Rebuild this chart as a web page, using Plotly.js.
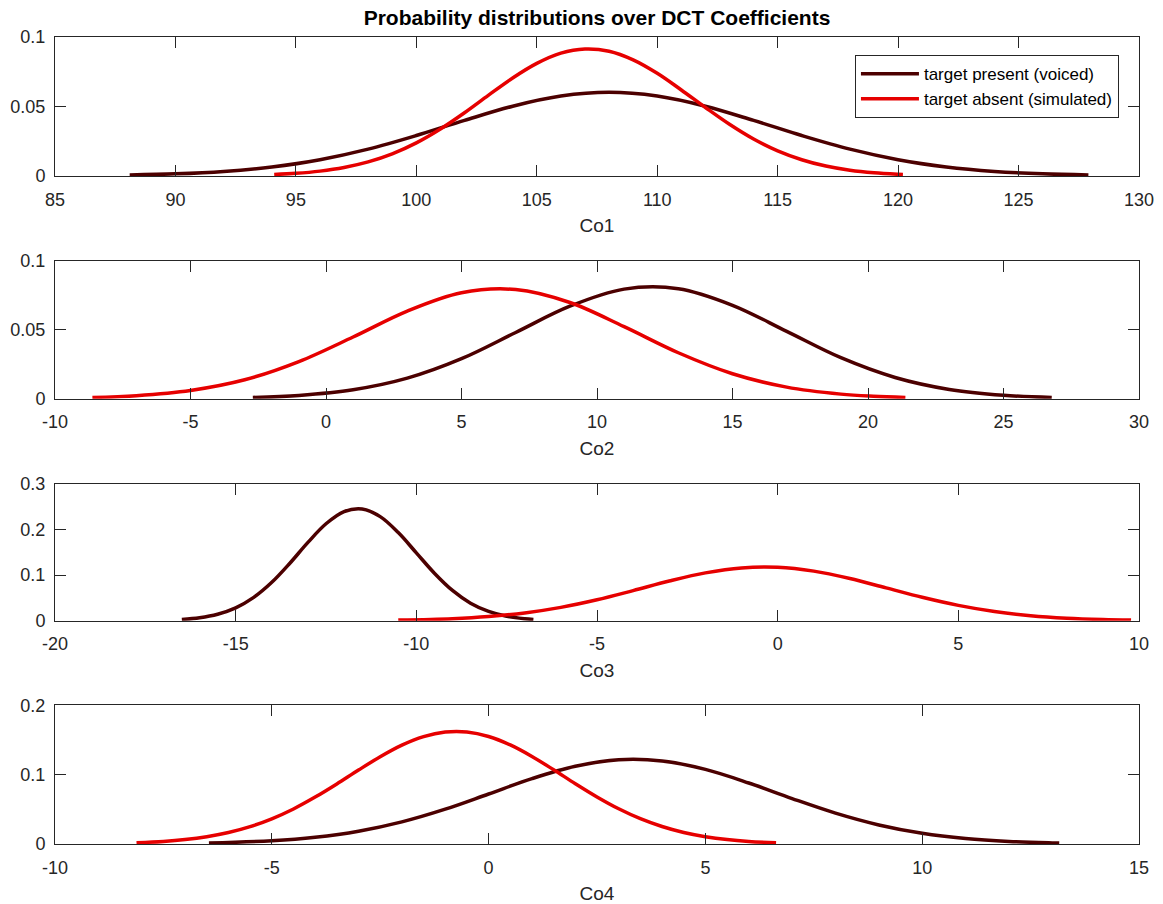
<!DOCTYPE html>
<html>
<head>
<meta charset="utf-8">
<script src="https://cdn.plot.ly/plotly-3.0.1.min.js"></script>
<style>html,body{margin:0;padding:0;background:#fff;}#chart{width:1163px;height:904px;}</style>
</head>
<body>
<div id="chart"></div>
<script>
// Co1
const co1PresentX = [88.1, 90, 92, 94, 96, 98, 100, 102, 104, 106, 108, 110, 112, 114, 116, 118, 120, 122, 124, 126, 127.9];
const co1PresentY = [0.00067, 0.00151, 0.00328, 0.00647, 0.0117, 0.0193, 0.0291, 0.0400, 0.0502, 0.0575, 0.0602, 0.0575, 0.0502, 0.0400, 0.0291, 0.0193, 0.0117, 0.00647, 0.00328, 0.00151, 0.00067];
const co1AbsentX = [94.1, 95, 96, 97, 98, 99, 100, 101, 102, 103, 104, 105, 106, 107, 108, 109, 110, 111, 112, 113, 114, 115, 116, 117, 118, 119, 120, 120.2];
const co1AbsentY = [0.00104, 0.00188, 0.00348, 0.00609, 0.0101, 0.0159, 0.0238, 0.0338, 0.0455, 0.0582, 0.0705, 0.0810, 0.0884, 0.0914, 0.0898, 0.0836, 0.0739, 0.0619, 0.0493, 0.0372, 0.0266, 0.0181, 0.0117, 0.00713, 0.00413, 0.00228, 0.00119, 0.00104];
// Co2
const co2PresentX = [-2.7, -1, 1, 3, 5, 7, 9, 11, 13, 15, 17, 19, 21, 23, 25, 26.78];
const co2PresentY = [0.0009, 0.00239, 0.00648, 0.0149, 0.0290, 0.0480, 0.0670, 0.0794, 0.0797, 0.0677, 0.0488, 0.0297, 0.0154, 0.00673, 0.00249, 0.0009];
const co2AbsentX = [-8.62, -7, -5, -3, -1, 1, 3, 5, 7, 9, 11, 13, 15, 17, 19, 20.2, 21.38];
const co2AbsentY = [0.00089, 0.00222, 0.00598, 0.0137, 0.0269, 0.0447, 0.0635, 0.0768, 0.0791, 0.0697, 0.0522, 0.0333, 0.0181, 0.00838, 0.00331, 0.00175, 0.00089];
// Co3
const co3PresentX = [-16.49, -16, -15.5, -15, -14.5, -14, -13.5, -13, -12.5, -12, -11.5, -11, -10.5, -10, -9.5, -9, -8.5, -8, -7.5, -7, -6.76];
const co3PresentY = [0.00273, 0.00647, 0.0142, 0.0282, 0.0511, 0.0842, 0.1261, 0.1718, 0.2127, 0.2395, 0.2453, 0.2284, 0.1934, 0.1489, 0.1043, 0.0664, 0.0384, 0.0203, 0.00969, 0.00422, 0.00273];
const co3AbsentX = [-10.5, -9, -8, -7, -6, -5, -4, -3, -2, -1, 0, 1, 2, 3, 4, 5, 6, 7, 8, 9, 9.78];
const co3AbsentY = [0.00131, 0.00450, 0.00918, 0.0171, 0.0293, 0.0460, 0.0661, 0.0870, 0.1049, 0.1159, 0.1173, 0.1088, 0.0925, 0.0720, 0.0514, 0.0336, 0.0201, 0.0110, 0.00555, 0.00255, 0.00131];
// Co4
const co4PresentX = [-6.45, -5, -4, -3, -2, -1, 0, 1, 2, 3, 4, 5, 6, 7, 8, 9, 10, 11, 12, 13, 13.16];
const co4PresentY = [0.00136, 0.00465, 0.00971, 0.0184, 0.0319, 0.0502, 0.0721, 0.0942, 0.1120, 0.1214, 0.1197, 0.1076, 0.0880, 0.0655, 0.0445, 0.0275, 0.01545, 0.00792, 0.00369, 0.00157, 0.00136];
const co4AbsentX = [-8.12, -7.5, -7, -6.5, -6, -5.5, -5, -4.5, -4, -3.5, -3, -2.5, -2, -1.5, -1, -0.5, 0, 0.5, 1, 1.5, 2, 2.5, 3, 3.5, 4, 4.5, 5, 5.5, 6, 6.63];
const co4AbsentY = [0.0018, 0.0037, 0.00637, 0.0105, 0.0165, 0.0250, 0.0363, 0.0505, 0.0676, 0.0866, 0.1066, 0.1258, 0.1425, 0.1548, 0.1614, 0.1615, 0.1550, 0.1428, 0.1262, 0.1070, 0.0870, 0.0679, 0.0508, 0.0365, 0.0252, 0.0166, 0.01058, 0.00643, 0.00376, 0.0018];

const axisTitles = ['Co1', 'Co2', 'Co3', 'Co4'];
const xRanges = [[85, 130], [-10, 30], [-20, 10], [-10, 15]];
const xTickVals = [
  [85, 90, 95, 100, 105, 110, 115, 120, 125, 130],
  [-10, -5, 0, 5, 10, 15, 20, 25, 30],
  [-20, -15, -10, -5, 0, 5, 10],
  [-10, -5, 0, 5, 10, 15]
];
const xTickText = [
  ['85', '90', '95', '100', '105', '110', '115', '120', '125', '130'],
  ['-10', '-5', '0', '5', '10', '15', '20', '25', '30'],
  ['-20', '-15', '-10', '-5', '0', '5', '10'],
  ['-10', '-5', '0', '5', '10', '15']
];
const yRanges = [[0, 0.1], [0, 0.1], [0, 0.3], [0, 0.2]];
const yDticks = [0.05, 0.05, 0.1, 0.1];
const seriesNames = ['target present (voiced)', 'target absent (simulated)'];
const chartTitle = 'Probability distributions over DCT Coefficients';

const presentColor = '#4c0000';
const absentColor = '#e60000';
const presentX = [co1PresentX, co2PresentX, co3PresentX, co4PresentX];
const presentY = [co1PresentY, co2PresentY, co3PresentY, co4PresentY];
const absentX = [co1AbsentX, co2AbsentX, co3AbsentX, co4AbsentX];
const absentY = [co1AbsentY, co2AbsentY, co3AbsentY, co4AbsentY];

const font = '"Liberation Sans", Arial, Helvetica, sans-serif';
const axisColor = '#262626';
const yDomains = [[0.8278, 1.0], [0.5518, 0.7228], [0.2767, 0.4461], [0.0, 0.1719]];

const traces = [];
for (let i = 0; i < 4; i++) {
  const sfx = i === 0 ? '' : String(i + 1);
  traces.push({
    x: presentX[i], y: presentY[i], type: 'scatter', mode: 'lines',
    line: {color: presentColor, width: 3.5, shape: 'spline', smoothing: 1},
    name: seriesNames[0], showlegend: i === 0,
    xaxis: 'x' + sfx, yaxis: 'y' + sfx, hoverinfo: 'x+y'
  });
  traces.push({
    x: absentX[i], y: absentY[i], type: 'scatter', mode: 'lines',
    line: {color: absentColor, width: 3.5, shape: 'spline', smoothing: 1},
    name: seriesNames[1], showlegend: i === 0,
    xaxis: 'x' + sfx, yaxis: 'y' + sfx, hoverinfo: 'x+y'
  });
}

const layout = {
  width: 1163, height: 904,
  margin: {l: 55, r: 24, t: 37, b: 60},
  paper_bgcolor: '#ffffff', plot_bgcolor: '#ffffff',
  font: {family: font, color: axisColor, size: 18},
  title: {
    text: '<b>' + chartTitle + '</b>',
    x: 0.5, xref: 'paper', xanchor: 'center',
    y: 0.980, yref: 'container', yanchor: 'middle',
    font: {family: font, size: 21, color: '#000000'}
  },
  showlegend: true,
  legend: {
    x: 0.9815, xanchor: 'right', y: 0.9775, yanchor: 'top',
    bgcolor: '#ffffff', bordercolor: axisColor, borderwidth: 1,
    font: {family: font, size: 17, color: '#000000'},
    itemwidth: 58, tracegroupgap: 0
  }
};

for (let i = 0; i < 4; i++) {
  const sfx = i === 0 ? '' : String(i + 1);
  layout['xaxis' + sfx] = {
    domain: [0, 1], anchor: 'y' + sfx, range: xRanges[i],
    tickmode: 'array', tickvals: xTickVals[i], ticktext: xTickText[i],
    showgrid: false, zeroline: false, showline: true, linecolor: axisColor, linewidth: 1,
    mirror: 'ticks', ticks: 'inside', ticklen: 11, tickcolor: axisColor, tickwidth: 1,
    ticklabelstandoff: 7,
    tickfont: {family: font, size: 18, color: axisColor},
    title: {text: axisTitles[i], font: {family: font, size: 19, color: axisColor}, standoff: 10}
  };
  layout['yaxis' + sfx] = {
    domain: yDomains[i], anchor: 'x' + sfx, range: yRanges[i], dtick: yDticks[i], tick0: 0,
    showgrid: false, zeroline: false, showline: true, linecolor: axisColor, linewidth: 1,
    mirror: 'ticks', ticks: 'inside', ticklen: 11, tickcolor: axisColor, tickwidth: 1,
    ticklabelstandoff: 5,
    tickfont: {family: font, size: 18, color: axisColor}
  };
}

Plotly.newPlot('chart', traces, layout, {displayModeBar: false, staticPlot: true});
</script>
</body>
</html>
